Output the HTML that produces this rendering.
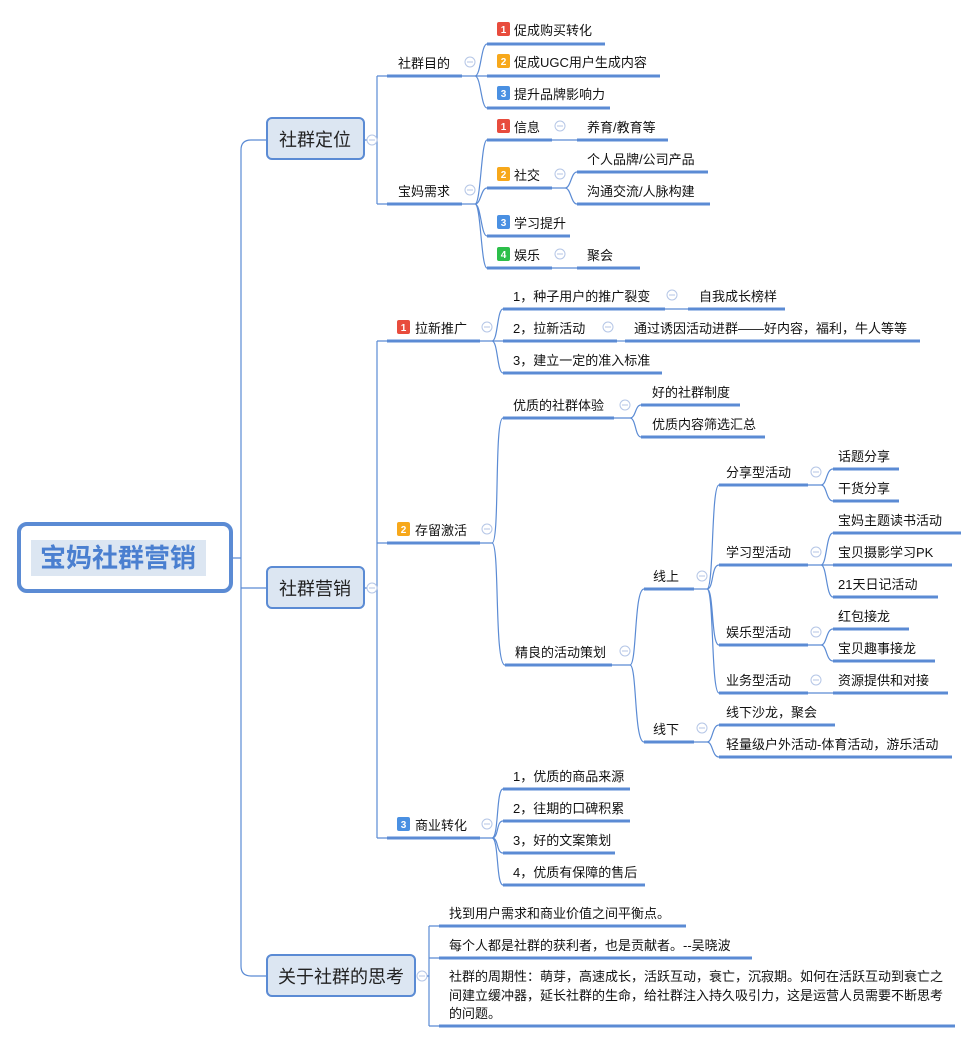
<!DOCTYPE html>
<html><head><meta charset="utf-8"><style>
html,body{margin:0;padding:0;background:#fff;}
svg{display:block;font-family:"Liberation Sans","Noto Sans CJK SC",sans-serif;}
.u{stroke:#5b8bd4;stroke-width:3;}
.c{fill:none;stroke:#5b8bd4;stroke-width:1.2;}
.t{font-size:13px;fill:#111;}
.m{font-size:18px;fill:#222;}
.cc{fill:#fff;stroke:#b5c6e6;stroke-width:1;}
.bn{font-size:10px;fill:#fff;font-weight:bold;}
</style></head><body>
<svg width="973" height="1043" viewBox="0 0 973 1043" xmlns="http://www.w3.org/2000/svg">
<defs>
<g id="col"><circle class="cc" cx="0" cy="0" r="5"/><line x1="-3" y1="0" x2="3" y2="0" stroke="#b5c6e6" stroke-width="1"/></g>
</defs>

<!-- root -->
<rect x="19" y="524" width="212" height="67" rx="8" fill="#fff" stroke="#5b8bd4" stroke-width="4"/>
<rect x="31" y="540" width="175" height="36" fill="#dce6f2"/>
<text x="118" y="567" text-anchor="middle" font-size="26" font-weight="bold" fill="#4a7fd0">宝妈社群营销</text>
<path class="c" d="M233 558 H241 M241 150 Q241 140 251 140 H267 M241 150 V966 Q241 976 251 976 H267 M241 588 H267"/>

<!-- main boxes -->
<rect x="267" y="118" width="97" height="41" rx="5" fill="#dce6f2" stroke="#5b8bd4" stroke-width="2"/>
<text class="m" x="315" y="146" text-anchor="middle">社群定位</text>
<rect x="267" y="567" width="97" height="41" rx="5" fill="#dce6f2" stroke="#5b8bd4" stroke-width="2"/>
<text class="m" x="315" y="595" text-anchor="middle">社群营销</text>
<rect x="267" y="955" width="148" height="41" rx="5" fill="#dce6f2" stroke="#5b8bd4" stroke-width="2"/>
<text class="m" x="341" y="983" text-anchor="middle">关于社群的思考</text>

<!-- 社群定位 -->
<path class="c" d="M364 140 H377 M377 76 V204 M377 76 H387 M377 204 H387"/>
<use href="#col" x="372" y="140"/>
<line class="u" x1="387" y1="76" x2="462" y2="76"/><text class="t" x="398" y="68">社群目的</text><use href="#col" x="470" y="62"/>
<line class="u" x1="387" y1="204" x2="462" y2="204"/><text class="t" x="398" y="196">宝妈需求</text><use href="#col" x="470" y="190"/>
<path class="c" d="M462 76 H475 M475 76 C481 76 481 44 487 44 M475 76 H487 M475 76 C481 76 481 108 487 108"/>
<rect x="497" y="22" width="13" height="14" rx="2" fill="#e84c3d"/><text class="bn" x="503.5" y="33" text-anchor="middle">1</text>
<text class="t" x="514" y="35">促成购买转化</text><line class="u" x1="487" y1="44" x2="605" y2="44"/>
<rect x="497" y="54" width="13" height="14" rx="2" fill="#f7a81b"/><text class="bn" x="503.5" y="65" text-anchor="middle">2</text>
<text class="t" x="514" y="67">促成UGC用户生成内容</text><line class="u" x1="487" y1="76" x2="660" y2="76"/>
<rect x="497" y="86" width="13" height="14" rx="2" fill="#4a90e2"/><text class="bn" x="503.5" y="97" text-anchor="middle">3</text>
<text class="t" x="514" y="99">提升品牌影响力</text><line class="u" x1="487" y1="108" x2="610" y2="108"/>

<path class="c" d="M462 204 H475 M475 204 C481 204 481 140 487 140 M475 204 C481 204 481 188 487 188 M475 204 C481 204 481 236 487 236 M475 204 C481 204 481 268 487 268"/>
<rect x="497" y="119" width="13" height="14" rx="2" fill="#e84c3d"/><text class="bn" x="503.5" y="130" text-anchor="middle">1</text>
<text class="t" x="514" y="132">信息</text><line class="u" x1="487" y1="140" x2="552" y2="140"/><use href="#col" x="560" y="126"/>
<rect x="497" y="167" width="13" height="14" rx="2" fill="#f7a81b"/><text class="bn" x="503.5" y="178" text-anchor="middle">2</text>
<text class="t" x="514" y="180">社交</text><line class="u" x1="487" y1="188" x2="552" y2="188"/><use href="#col" x="560" y="174"/>
<rect x="497" y="215" width="13" height="14" rx="2" fill="#4a90e2"/><text class="bn" x="503.5" y="226" text-anchor="middle">3</text>
<text class="t" x="514" y="228">学习提升</text><line class="u" x1="487" y1="236" x2="570" y2="236"/>
<rect x="497" y="247" width="13" height="14" rx="2" fill="#2cbf4a"/><text class="bn" x="503.5" y="258" text-anchor="middle">4</text>
<text class="t" x="514" y="260">娱乐</text><line class="u" x1="487" y1="268" x2="552" y2="268"/><use href="#col" x="560" y="254"/>
<path class="c" d="M552 140 H577 M552 188 H565 M565 188 C571 188 571 172 577 172 M565 188 C571 188 571 204 577 204 M552 268 H577"/>
<text class="t" x="587" y="132">养育/教育等</text><line class="u" x1="577" y1="140" x2="668" y2="140"/>
<text class="t" x="587" y="164">个人品牌/公司产品</text><line class="u" x1="577" y1="172" x2="708" y2="172"/>
<text class="t" x="587" y="196">沟通交流/人脉构建</text><line class="u" x1="577" y1="204" x2="710" y2="204"/>
<text class="t" x="587" y="260">聚会</text><line class="u" x1="577" y1="268" x2="640" y2="268"/>

<!-- 社群营销 -->
<path class="c" d="M364 588 H377 M377 341 V838 M377 341 H387 M377 543 H387 M377 838 H387"/>
<use href="#col" x="372" y="588"/>
<rect x="397" y="320" width="13" height="14" rx="2" fill="#e84c3d"/><text class="bn" x="403.5" y="331" text-anchor="middle">1</text>
<text class="t" x="415" y="333">拉新推广</text><line class="u" x1="387" y1="341" x2="480" y2="341"/><use href="#col" x="487" y="327"/>
<rect x="397" y="522" width="13" height="14" rx="2" fill="#f7a81b"/><text class="bn" x="403.5" y="533" text-anchor="middle">2</text>
<text class="t" x="415" y="535">存留激活</text><line class="u" x1="387" y1="543" x2="480" y2="543"/><use href="#col" x="487" y="529"/>
<rect x="397" y="817" width="13" height="14" rx="2" fill="#4a90e2"/><text class="bn" x="403.5" y="828" text-anchor="middle">3</text>
<text class="t" x="415" y="830">商业转化</text><line class="u" x1="387" y1="838" x2="480" y2="838"/><use href="#col" x="487" y="824"/>

<path class="c" d="M480 341 H492 M492 341 C498 341 497 309 503 309 M492 341 H503 M492 341 C498 341 497 373 503 373"/>
<text class="t" x="513" y="301">1，种子用户的推广裂变</text><line class="u" x1="503" y1="309" x2="665" y2="309"/><use href="#col" x="672" y="295"/>
<path class="c" d="M665 309 H688"/><text class="t" x="699" y="301">自我成长榜样</text><line class="u" x1="688" y1="309" x2="785" y2="309"/>
<text class="t" x="513" y="333">2，拉新活动</text><line class="u" x1="503" y1="341" x2="617" y2="341"/><use href="#col" x="608" y="327"/>
<path class="c" d="M617 341 H625"/><text class="t" x="634" y="333">通过诱因活动进群——好内容，福利，牛人等等</text><line class="u" x1="625" y1="341" x2="920" y2="341"/>
<text class="t" x="513" y="365">3，建立一定的准入标准</text><line class="u" x1="503" y1="373" x2="662" y2="373"/>

<path class="c" d="M480 543 H492 M492 543 C500 543 494 418 503 418 M492 543 C500 543 494 665 505 665"/>
<text class="t" x="513" y="410">优质的社群体验</text><line class="u" x1="503" y1="418" x2="614" y2="418"/><use href="#col" x="625" y="405"/>
<path class="c" d="M614 418 H630 M630 418 C636 418 635 405 641 405 M630 418 C636 418 635 437 641 437"/>
<text class="t" x="652" y="397">好的社群制度</text><line class="u" x1="641" y1="405" x2="740" y2="405"/>
<text class="t" x="652" y="429">优质内容筛选汇总</text><line class="u" x1="641" y1="437" x2="765" y2="437"/>

<text class="t" x="515" y="657">精良的活动策划</text><line class="u" x1="505" y1="665" x2="612" y2="665"/><use href="#col" x="625" y="651"/>
<path class="c" d="M612 665 H630 M630 665 C637 665 634 589 644 589 M630 665 C637 665 634 742 644 742"/>
<text class="t" x="653" y="581">线上</text><line class="u" x1="644" y1="589" x2="694" y2="589"/><use href="#col" x="702" y="576"/>
<text class="t" x="653" y="734">线下</text><line class="u" x1="644" y1="742" x2="694" y2="742"/><use href="#col" x="702" y="728"/>
<path class="c" d="M694 589 H707 M707 589 C714 589 711 485 719 485 M707 589 C714 589 711 565 719 565 M707 589 C714 589 711 645 719 645 M707 589 C714 589 711 693 719 693"/>
<path class="c" d="M694 742 H707 M707 742 C713 742 712 725 719 725 M707 742 C713 742 712 757 719 757"/>
<text class="t" x="726" y="477">分享型活动</text><line class="u" x1="719" y1="485" x2="808" y2="485"/><use href="#col" x="816" y="472"/>
<text class="t" x="726" y="557">学习型活动</text><line class="u" x1="719" y1="565" x2="808" y2="565"/><use href="#col" x="816" y="552"/>
<text class="t" x="726" y="637">娱乐型活动</text><line class="u" x1="719" y1="645" x2="808" y2="645"/><use href="#col" x="816" y="632"/>
<text class="t" x="726" y="685">业务型活动</text><line class="u" x1="719" y1="693" x2="808" y2="693"/><use href="#col" x="816" y="680"/>
<text class="t" x="726" y="717">线下沙龙，聚会</text><line class="u" x1="719" y1="725" x2="835" y2="725"/>
<text class="t" x="726" y="749">轻量级户外活动-体育活动，游乐活动</text><line class="u" x1="719" y1="757" x2="952" y2="757"/>

<path class="c" d="M808 485 H821 M821 485 C827 485 826 469 833 469 M821 485 C827 485 826 501 833 501"/>
<path class="c" d="M808 565 H833 M821 565 C827 565 826 533 833 533 M821 565 C827 565 826 597 833 597"/>
<path class="c" d="M808 645 H821 M821 645 C827 645 826 629 833 629 M821 645 C827 645 826 661 833 661"/>
<path class="c" d="M808 693 H833"/>
<text class="t" x="838" y="461">话题分享</text><line class="u" x1="833" y1="469" x2="899" y2="469"/>
<text class="t" x="838" y="493">干货分享</text><line class="u" x1="833" y1="501" x2="899" y2="501"/>
<text class="t" x="838" y="525">宝妈主题读书活动</text><line class="u" x1="833" y1="533" x2="961" y2="533"/>
<text class="t" x="838" y="557">宝贝摄影学习PK</text><line class="u" x1="833" y1="565" x2="952" y2="565"/>
<text class="t" x="838" y="589">21天日记活动</text><line class="u" x1="833" y1="597" x2="938" y2="597"/>
<text class="t" x="838" y="621">红包接龙</text><line class="u" x1="833" y1="629" x2="909" y2="629"/>
<text class="t" x="838" y="653">宝贝趣事接龙</text><line class="u" x1="833" y1="661" x2="935" y2="661"/>
<text class="t" x="838" y="685">资源提供和对接</text><line class="u" x1="833" y1="693" x2="948" y2="693"/>

<path class="c" d="M480 838 H492 M492 838 C499 838 496 789 503 789 M492 838 C499 838 496 821 503 821 M492 838 C499 838 496 853 503 853 M492 838 C499 838 496 885 503 885"/>
<text class="t" x="513" y="781">1，优质的商品来源</text><line class="u" x1="503" y1="789" x2="630" y2="789"/>
<text class="t" x="513" y="813">2，往期的口碑积累</text><line class="u" x1="503" y1="821" x2="630" y2="821"/>
<text class="t" x="513" y="845">3，好的文案策划</text><line class="u" x1="503" y1="853" x2="615" y2="853"/>
<text class="t" x="513" y="877">4，优质有保障的售后</text><line class="u" x1="503" y1="885" x2="645" y2="885"/>

<!-- 关于社群的思考 -->
<use href="#col" x="422" y="976"/>
<path class="c" d="M427 976 H429 M429 926 V1026 M429 926 H439 M429 958 H439 M429 1026 H439"/>
<text class="t" x="449" y="918">找到用户需求和商业价值之间平衡点。</text><line class="u" x1="439" y1="926" x2="686" y2="926"/>
<text class="t" x="449" y="950">每个人都是社群的获利者，也是贡献者。--吴晓波</text><line class="u" x1="439" y1="958" x2="752" y2="958"/>
<text class="t" x="449" y="981">社群的周期性：萌芽，高速成长，活跃互动，衰亡，沉寂期。如何在活跃互动到衰亡之</text>
<text class="t" x="449" y="1000">间建立缓冲器，延长社群的生命，给社群注入持久吸引力，这是运营人员需要不断思考</text>
<text class="t" x="449" y="1018">的问题。</text>
<line class="u" x1="439" y1="1026" x2="955" y2="1026"/>
</svg>
</body></html>
